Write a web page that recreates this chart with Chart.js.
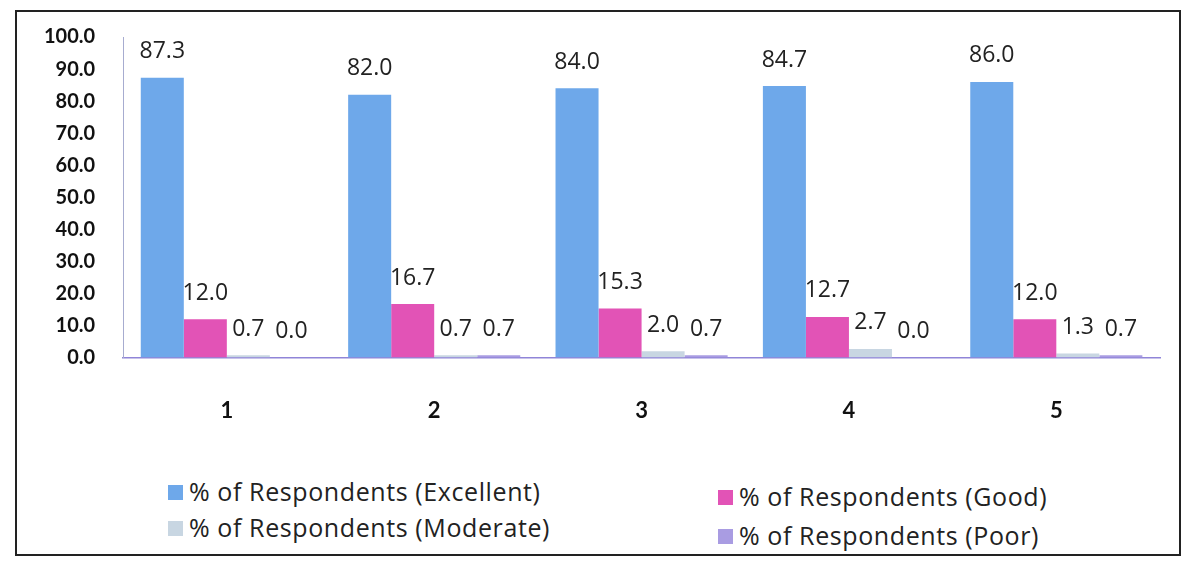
<!DOCTYPE html>
<html>
<head>
<meta charset="utf-8">
<script src="https://cdn.jsdelivr.net/npm/chart.js@4.4.1/dist/chart.umd.min.js"></script>
<style>
  body { margin: 0; background: #fff; width: 1186px; height: 566px; overflow: hidden; }
  #frame { position: absolute; left: 15px; top: 10px; width: 1162px; height: 542px; border: 2px solid #222; }
  #wrap { position: absolute; left: 0; top: 0; width: 1186px; height: 470px; }
  .leg { position: absolute; font-family: 'Open Sans', sans-serif; font-size: 25px; letter-spacing: 0.6px; color: #222; white-space: nowrap; }
  .leg i { display: inline-block; width: 15px; height: 15px; margin-right: 6px; vertical-align: 1px; }
</style>
</head>
<body>
<div id="frame"></div>
<div id="wrap"><canvas id="c" width="1186" height="470"></canvas></div>
<div id="legend"></div>
<script>
const categories = ['1', '2', '3', '4', '5'];
const seriesNames = [
  '% of Respondents (Excellent)',
  '% of Respondents (Good)',
  '% of Respondents (Moderate)',
  '% of Respondents (Poor)'
];
const excellent = [87.3, 82.0, 84.0, 84.7, 86.0];
const good = [12.0, 16.7, 15.3, 12.7, 12.0];
const moderate = [0.7, 0.7, 2.0, 2.7, 1.3];
const poor = [0.0, 0.7, 0.7, 0.0, 0.7];
const colours = ['#6ea8ea', '#e253b6', '#c8d6e2', '#a99ce2'];

// value labels above each bar
const barLabels = {
  id: 'barLabels',
  afterDatasetsDraw(chart) {
    const ctx = chart.ctx;
    ctx.save();
    ctx.font = '23px "Open Sans", sans-serif';
    ctx.fillStyle = '#222';
    ctx.textAlign = 'center';
    ctx.textBaseline = 'middle';
    chart.data.datasets.forEach((ds, i) => {
      chart.getDatasetMeta(i).data.forEach((bar, j) => {
        ctx.fillText(ds.data[j].toFixed(1), bar.x, bar.y - 26);
      });
    });
    ctx.restore();
  }
};

const data = [excellent, good, moderate, poor];
new Chart(document.getElementById('c'), {
  type: 'bar',
  data: {
    labels: categories,
    datasets: data.map((d, i) => ({
      label: seriesNames[i],
      data: d,
      backgroundColor: colours[i],
      barPercentage: 1.0,
      categoryPercentage: 0.83
    }))
  },
  options: {
    responsive: false,
    animation: false,
    layout: { padding: { left: 24, right: 26, top: 37, bottom: 14 } },
    plugins: { legend: { display: false }, tooltip: { enabled: false } },
    scales: {
      x: {
        grid: { display: false },
        border: { display: true, color: '#9085d8', width: 1.5 },
        ticks: { color: '#111', padding: 32, font: { family: 'Lato', size: 22, weight: 'bold' } }
      },
      y: {
        min: 0, max: 100,
        grid: { display: false },
        border: { display: true, color: '#a7acd0' },
        ticks: {
          stepSize: 10, color: '#111', padding: 20,
          font: { family: 'Lato', size: 20, weight: 'bold' },
          callback: v => v.toFixed(1)
        }
      }
    }
  },
  plugins: [barLabels]
});

const legendPos = [[168, 474], [718, 479], [168, 510], [718, 518]];
const leg = document.getElementById('legend');
seriesNames.forEach((name, i) => {
  const el = document.createElement('div');
  el.className = 'leg';
  el.style.left = legendPos[i][0] + 'px';
  el.style.top = legendPos[i][1] + 'px';
  el.innerHTML = '<i style="background:' + colours[i] + '"></i>' + name;
  leg.appendChild(el);
});
</script>
</body>
</html>
